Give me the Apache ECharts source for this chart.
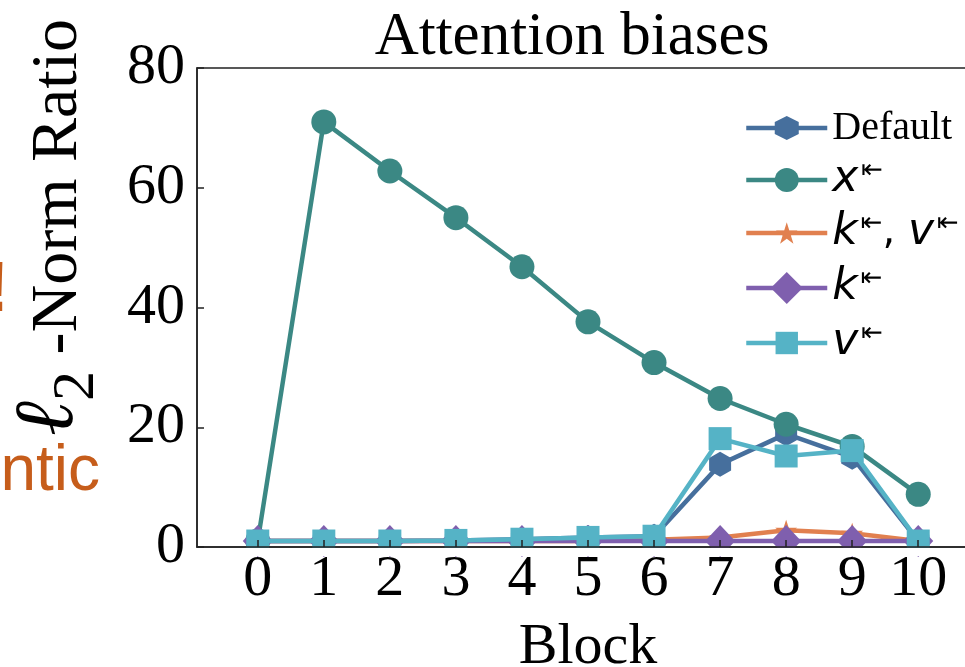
<!DOCTYPE html>
<html>
<head>
<meta charset="utf-8">
<script src="https://cdn.jsdelivr.net/npm/echarts@6/dist/echarts.min.js"></script>
<style>
  html, body { margin: 0; padding: 0; background: #fff; }
  #chart { width: 965px; height: 667px; }
</style>
</head>
<body>
<div id="chart"></div>
<script>
// Block indices along the x axis
const blocks = [0, 1, 2, 3, 4, 5, 6, 7, 8, 9, 10];
const yTicks = [0, 20, 40, 60, 80];

// l2-norm ratio per block for each bias configuration
const defaultRatio = [1.0, 1.0, 1.0, 1.1, 1.3, 1.6, 1.8, 13.8, 18.9, 15.0, 1.0];
const xRatio       = [1.0, 71.0, 62.8, 55.0, 46.8, 37.6, 30.8, 24.8, 20.5, 16.8, 8.8];
const kvRatio      = [1.0, 1.0, 1.0, 1.0, 1.0, 1.0, 1.2, 1.6, 2.8, 2.3, 1.0];
const kRatio       = [1.0, 1.0, 1.0, 1.0, 1.0, 1.0, 1.0, 1.0, 1.0, 1.0, 1.0];
const vRatio       = [1.0, 1.0, 1.0, 1.1, 1.3, 1.6, 1.8, 18.1, 15.2, 16.1, 1.0];

const seriesNames = ['Default', 'x', 'kv', 'k', 'v'];
const seriesValues = [defaultRatio, xRatio, kvRatio, kRatio, vRatio];
const colors = ['#466f9d', '#3b8884', '#e1804f', '#7f5fae', '#55b3c6'];

const HEX = 'path://M0,-1L-0.866,-0.5L-0.866,0.5L0,1L0.866,0.5L0.866,-0.5Z';
const STAR = 'path://M0,-1L-0.2245,-0.309L-0.951,-0.309L-0.363,0.118L-0.588,0.809L0,0.382L0.588,0.809L0.363,0.118L0.951,-0.309L0.2245,-0.309Z';
const symbols = [HEX, 'circle', STAR, 'diamond', 'rect'];
const symbolSizes = [[22, 25], 25, [22, 21], [30, 32], 23];
const legendItemHeights = [30, 30, 27, 40, 28];
const legendCenters = [128, 180, 233, 288, 343];

const SERIF = '"Liberation Serif", "Times New Roman", serif';
const SANS = '"DejaVu Sans", sans-serif';

const legendLabels = {
  Default: '{d|Default}',
  x: '{m|x}{a|⇤}',
  kv: '{m|k}{a|⇤}{c|, }{m|v}{a|⇤}',
  k: '{m|k}{a|⇤}',
  v: '{m|v}{a|⇤}'
};

const legendRich = {
  d: { fontFamily: SERIF, fontSize: 40, lineHeight: 44, color: '#000' },
  m: { fontFamily: SANS, fontStyle: 'italic', fontSize: 44, lineHeight: 44, color: '#000' },
  c: { fontFamily: SANS, fontSize: 40, lineHeight: 44, color: '#000' },
  a: { fontFamily: SANS, fontSize: 26, lineHeight: 26, verticalAlign: 'top', padding: [0, 0, 0, 3], color: '#000' }
};

const chart = echarts.init(document.getElementById('chart'), null, { renderer: 'canvas' });

chart.setOption({
  animation: false,
  backgroundColor: '#fff',
  title: {
    text: 'Attention biases',
    left: 567,
    textAlign: 'center',
    top: 2,
    textStyle: { fontFamily: SERIF, fontSize: 61, fontWeight: 'normal', color: '#000' }
  },
  grid: {
    left: 197,
    top: 68,
    width: 782,
    height: 479,
    outerBoundsMode: 'none',
    containLabel: false,
    show: true,
    borderColor: '#222',
    borderWidth: 1.5
  },
  xAxis: {
    type: 'value',
    min: -0.92,
    max: 10.92,
    z: 5,
    name: 'Block',
    nameLocation: 'middle',
    nameGap: 72,
    nameTextStyle: { fontFamily: SERIF, fontSize: 58, color: '#000' },
    axisLine: { show: true, onZero: false, lineStyle: { color: '#222', width: 1.5 } },
    axisTick: { show: true, inside: true, length: 7, customValues: blocks, lineStyle: { color: '#222', width: 1.5 } },
    axisLabel: { customValues: blocks, fontFamily: SERIF, fontSize: 58, color: '#000', margin: 4 },
    splitLine: { show: false }
  },
  yAxis: {
    type: 'value',
    min: 0,
    max: 80,
    interval: 20,
    z: 5,
    name: '{l|ℓ}{s|2}{t| -Norm Ratio}',
    nameLocation: 'middle',
    nameRotate: 90,
    nameGap: 90,
    nameTextStyle: {
      padding: [0, 0, 0, 160],
      rich: {
        l: { fontFamily: SERIF, fontStyle: 'italic', fontSize: 84, lineHeight: 84, verticalAlign: 'bottom', padding: [0, 0, 15, 0], color: '#000' },
        s: { fontFamily: SERIF, fontSize: 60, lineHeight: 60, verticalAlign: 'bottom', color: '#000' },
        t: { fontFamily: SERIF, fontSize: 66, lineHeight: 66, verticalAlign: 'bottom', padding: [0, 0, 15, 0], color: '#000' }
      }
    },
    axisLine: { show: true, onZero: false, lineStyle: { color: '#222', width: 1.5 } },
    axisTick: { show: true, inside: true, length: 7, lineStyle: { color: '#222', width: 1.5 } },
    axisLabel: { fontFamily: SERIF, fontSize: 58, color: '#000', margin: 12 },
    splitLine: { show: false }
  },
  legend: seriesNames.map((name, i) => ({
    data: [name],
    left: 744,
    top: legendCenters[i] - 22,
    padding: 0,
    itemWidth: 81,
    itemHeight: legendItemHeights[i],
    lineStyle: { width: 4.5 },
    formatter: (n) => legendLabels[n],
    textStyle: { rich: legendRich, lineHeight: 44 }
  })),
  graphic: [
    // hides the part of the markers that falls below the plotting area
    { type: 'rect', z: 3, shape: { x: 198, y: 548, width: 767, height: 8 }, style: { fill: '#fff' } },
    { type: 'text', z: 6, x: 100, y: 472, style: { text: 'ntic', align: 'right', verticalAlign: 'middle', fill: '#c65d1b', font: '64px "Liberation Sans", sans-serif' } },
    { type: 'text', z: 6, x: 9, y: 292, style: { text: '!', align: 'right', verticalAlign: 'middle', fill: '#c65d1b', font: 'bold 70px "Liberation Sans", sans-serif' } }
  ],
  series: seriesNames.map((name, i) => ({
    name: name,
    type: 'line',
    data: blocks.map((b, j) => [b, seriesValues[i][j]]),
    symbol: symbols[i],
    symbolSize: symbolSizes[i],
    showAllSymbol: true,
    clip: false,
    z: 2 + i * 0.1,
    lineStyle: { color: colors[i], width: 4.5 },
    itemStyle: { color: colors[i], borderWidth: 0 },
    emphasis: { disabled: true }
  }))
});
</script>
</body>
</html>
